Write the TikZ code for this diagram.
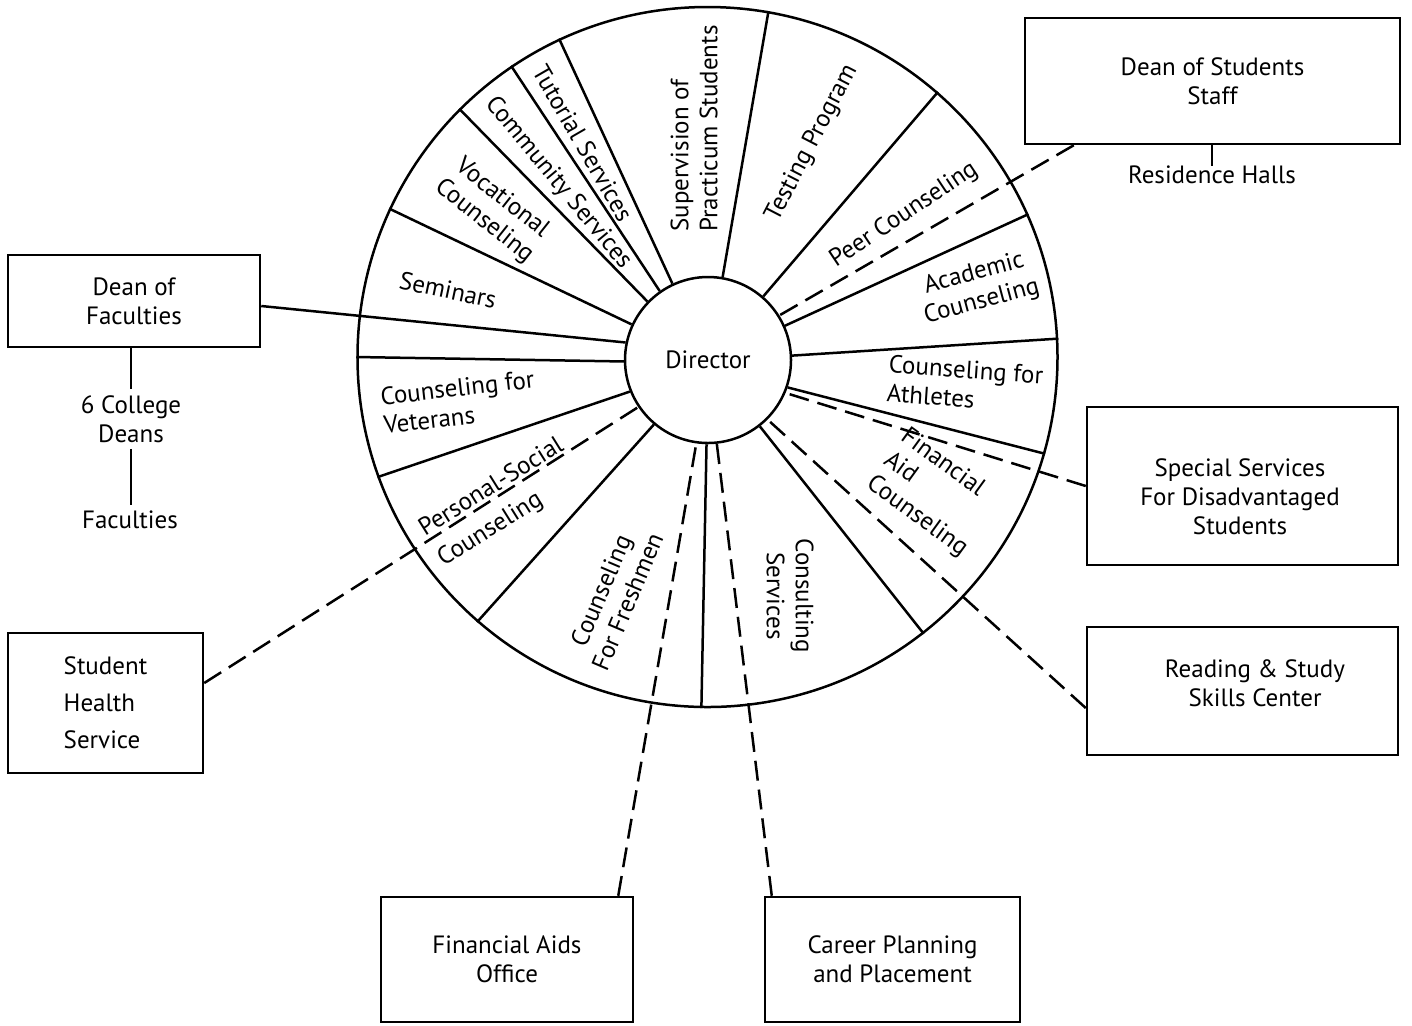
\documentclass[tikz,border=0pt]{standalone}
\usepackage{fontspec}
\setmainfont{PT Sans}
\usetikzlibrary{calc}
\begin{document}
\begin{tikzpicture}[x=0.5pt,y=-0.5pt,
  every node/.style={font=\fontsize{12.5}{14.5}\selectfont},
  rule/.style={line width=1.25pt},
  link/.style={line width=1.25pt, dash pattern=on 10pt off 4.5pt},
  box/.style={draw, line width=1.25pt, align=center, inner sep=0pt},
  lab/.style={inner sep=0pt},
  chain/.style={inner sep=3pt, align=center},
  ring/.style={draw, circle, line width=1.25pt, inner sep=0pt}]
\fill[white] (0,0) rectangle (1412,1025);
\useasboundingbox (0,0) rectangle (1412,1025);

% the wheel and its hub
\node[ring, minimum size=350pt] (wheel) at (707.5,357) {};
\node[ring, minimum size=83pt] (dir) at (708,360) {Director};

% spokes between the services
\foreach \a/\b in {80/80, 49.3/49.3, 24.5/24, 3.2/3.9, 341.5/344, 308.5/308.5,
                   269.5/269.5, 230/229.6, 202/200, 181/180.6, 155.8/155.3,
                   136.2/135.1, 125.4/124.8, 115.7/115.3}
  \draw[rule] (dir.\a) -- (wheel.\b);

% services inside the wheel
\node[lab, rotate=90, align=left] (sup) at (694,128.5) {Supervision of\\Practicum Students};
\node[lab, rotate=62.7] (test) at (812,143) {Testing Program};
\node[lab, rotate=33.7] (peer) at (904,215) {Peer Counseling};
\node[lab, rotate=15, align=center] (acad) at (978,288) {Academic\\Counseling};
\node[lab, rotate=-4, align=left] (ath) at (965,384) {Counseling for\\Athletes};
\node[lab, rotate=-36, align=left] (fin) at (934,493) {Financial\\Aid\\Counseling};
\node[lab, rotate=-90, align=center] (cons) at (790,596) {Consulting\\Services};
\node[lab, rotate=67, align=center] (fresh) at (614,596) {Counseling\\For Freshmen};
\node[lab, rotate=32, align=left] (pers) at (501,502.5) {Personal-Social\\[3pt]Counseling};
\node[lab, rotate=6.5, align=left] (vet) at (459,402) {Counseling for\\Veterans};
\node[lab, rotate=-12] (sem) at (448,290) {Seminars};
\node[lab, rotate=-38.4, align=center] (voc) at (493,210) {Vocational\\Counseling};
\node[lab, rotate=-50.4] (comm) at (558,183) {Community Services};
\node[lab, rotate=-60] (tut) at (583,143) {Tutorial Services};

% offices around the wheel
\node[box, minimum width=126pt, minimum height=46pt] (dof) at (134,301) {Dean of\\Faculties};
\node[chain] (cd) at (131,419) {6 College\\Deans};
\node[chain] (fac) at (130,520) {Faculties};
\node[box, minimum width=97.5pt, minimum height=70pt, align=left] (shs) at (105.5,703)
  {Student\\[4pt]Health\\[4pt]Service};
\node[box, minimum width=187.5pt, minimum height=63pt] (dos) at (1212.5,81) {Dean of Students\\Staff};
\node[lab] (res) at (1212,175) {Residence Halls};
\node[box, minimum width=155.5pt, minimum height=79pt] (ssd) at (1242.5,486) {};
\node[lab, align=center] (ssdt) at (1240,497) {Special Services\\For Disadvantaged\\Students};
\node[box, minimum width=155.5pt, minimum height=64pt] (rsc) at (1242.5,691) {};
\node[lab, align=center] (rsct) at (1255,683) {Reading \& Study\\Skills Center};
\node[box, minimum width=126pt, minimum height=62.5pt] (fao) at (507,959.5) {Financial Aids\\Office};
\node[box, minimum width=127.5pt, minimum height=62.5pt] (cpp) at (892.5,959.5) {Career Planning\\and Placement};

% line authority
\draw[rule] ($(dof.east)+(0,5)$) -- (dir.168);
\draw[rule] (dof.south -| cd.north) -- (cd.north);
\draw[rule] (cd.south) -- (cd.south |- fac.north);
\draw[rule] (res.north) -- (res.north |- dos.south);

% cooperative links
\draw[link] ($(dos.south west)+(50,0)$) -- (dir.32);
\draw[link] (ssd.west) -- (dir.337);
\draw[link] ($(rsc.west)+(0,17)$) -- (dir.315);
\draw[link] ($(fao.north east)+(-16,0)$) -- (dir.262.6);
\draw[link] ($(cpp.north west)+(8,0)$) -- (dir.276.2);
\draw[link] ($(shs.east)+(0,-20)$) -- (dir.214);
\end{tikzpicture}
\end{document}
